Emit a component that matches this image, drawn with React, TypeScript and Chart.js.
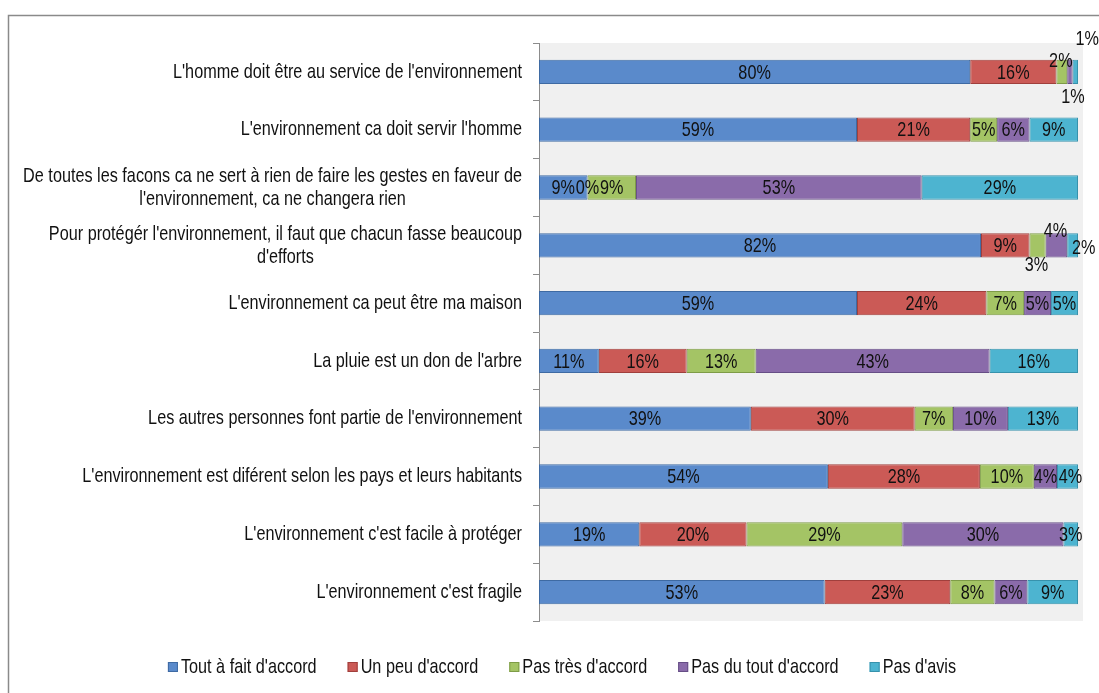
import React, { useEffect, useRef } from "react";
import { Chart, registerables } from "chart.js";

Chart.register(...registerables);

const categories: string[][] = [
  ["L'homme doit être au service de l'environnement"],
  ["L'environnement ca doit servir l'homme"],
  [
    "De toutes les facons ca ne sert à rien de faire les gestes en faveur de",
    "l'environnement, ca ne changera rien",
  ],
  ["Pour protégér l'environnement, il faut que chacun fasse beaucoup", "d'efforts"],
  ["L'environnement ca peut être ma maison"],
  ["La pluie est un don de l'arbre"],
  ["Les autres personnes font partie de l'environnement"],
  ["L'environnement est diférent selon les pays et leurs habitants"],
  ["L'environnement c'est facile à protéger"],
  ["L'environnement c'est fragile"],
];

const seriesNames = [
  "Tout à fait d'accord",
  "Un peu d'accord",
  "Pas très d'accord",
  "Pas du tout d'accord",
  "Pas d'avis",
];

const toutAFait = [80, 59, 9, 82, 59, 11.1, 39.3, 53.6, 18.6, 53];
const unPeu = [16, 21, 0, 9, 24, 16.3, 30.4, 28.2, 19.9, 23.3];
const pasTres = [2, 5, 9, 3, 7, 12.8, 7.1, 10.0, 28.9, 8.2];
const pasDuTout = [1, 6, 53, 4, 5, 43.4, 10.2, 4.3, 29.9, 6.1];
const pasDAvis = [1, 9, 29, 2, 5, 16.4, 13.0, 3.9, 2.7, 9.4];

const seriesValues = [toutAFait, unPeu, pasTres, pasDuTout, pasDAvis];

const fills = ["#5A8ACB", "#CB5A56", "#A4C465", "#8A6BAA", "#4DB4D0"];
const borders = ["#3E6AA3", "#A03F3C", "#7E9C47", "#664E86", "#3792AC"];

// manual placement of crowded data labels: "dataset-index" -> [dx, dy]
const labelNudges: Record<string, [number, number]> = {
  "2-0": [-1, -12],
  "3-0": [3, 24],
  "4-0": [12, -34],
  "2-3": [-1, 19],
  "3-3": [-1, -15],
  "4-3": [11, 2],
  "4-7": [3, 0],
};

const FONT_SIZE = 21;
let FONT_FAMILY = '"Liberation Sans", Arial, sans-serif';
const REF_TEXT = "L'homme doit être au service de l'environnement";
const REF_WIDTH = 349;

let SX = 0.8;
let fontReady = false;

function font() {
  return `${FONT_SIZE}px ${FONT_FAMILY}`;
}

function setupFont(ctx: CanvasRenderingContext2D) {
  if (fontReady) return;
  ctx.save();
  ctx.font = `${FONT_SIZE}px "Liberation Sans Narrow", monospace`;
  const a = ctx.measureText("abcdefghijklmnop").width;
  ctx.font = `${FONT_SIZE}px monospace`;
  const b = ctx.measureText("abcdefghijklmnop").width;
  if (Math.abs(a - b) > 0.5) {
    FONT_FAMILY = '"Liberation Sans Narrow", "Arial Narrow", sans-serif';
  }
  ctx.font = font();
  SX = REF_WIDTH / ctx.measureText(REF_TEXT).width;
  ctx.restore();
  fontReady = true;
}

function drawText(ctx: CanvasRenderingContext2D, text: string, x: number, y: number, align: CanvasTextAlign) {
  ctx.save();
  ctx.font = font();
  ctx.translate(x, y);
  ctx.scale(SX, 1);
  ctx.textAlign = align;
  ctx.textBaseline = "middle";
  ctx.fillStyle = "#111";
  ctx.fillText(text, 0, 0);
  ctx.restore();
}

function textW(ctx: CanvasRenderingContext2D, text: string) {
  ctx.save();
  ctx.font = font();
  const w = ctx.measureText(text).width * SX;
  ctx.restore();
  return w;
}

const framePlugin = {
  id: "frame",
  beforeDraw(chart: any) {
    const { ctx, chartArea, width, height } = chart;
    ctx.save();
    ctx.fillStyle = "#ffffff";
    ctx.fillRect(0, 0, width, height);
    ctx.fillStyle = "#F0F0F0";
    ctx.fillRect(chartArea.left, chartArea.top, chartArea.right - chartArea.left + 5, chartArea.bottom - chartArea.top);
    ctx.strokeStyle = "#8a8a8a";
    ctx.lineWidth = 1.5;
    ctx.beginPath();
    ctx.moveTo(8.5, height + 2);
    ctx.lineTo(8.5, 15.5);
    ctx.lineTo(width + 2, 15.5);
    ctx.stroke();
    ctx.restore();
  },
};

const labelsPlugin = {
  id: "customLabels",
  afterDraw(chart: any) {
    const ctx: CanvasRenderingContext2D = chart.ctx;
    setupFont(ctx);

    // category labels
    const yScale = chart.scales.y;
    const rightEdge = yScale.right - 17;
    const lineH = 23;
    (chart.data.labels as string[][]).forEach((lines, i) => {
      const cy = yScale.getPixelForValue(i);
      const blockW = Math.max(...lines.map((l) => textW(ctx, l)));
      const cx = rightEdge - blockW / 2;
      lines.forEach((l, k) => {
        drawText(ctx, l, cx, cy + (k - (lines.length - 1) / 2) * lineH, "center");
      });
    });

    // data labels
    chart.data.datasets.forEach((ds: any, d: number) => {
      const meta = chart.getDatasetMeta(d);
      meta.data.forEach((el: any, i: number) => {
        const v = ds.data[i];
        const nudge = labelNudges[`${d}-${i}`] || [0, 0];
        const cx = (el.x + el.base) / 2 + nudge[0];
        const cy = el.y + nudge[1];
        drawText(ctx, `${Math.round(v)}%`, cx, cy + 1, "center");
      });
    });

    // legend
    const box = 10;
    const gapBox = 3;
    const gapItem = 31;
    const items = chart.data.datasets.map((ds: any, d: number) => ({
      label: ds.label,
      w: box + gapBox + textW(ctx, ds.label),
      d,
    }));
    const total = items.reduce((s: number, it: any) => s + it.w, 0) + gapItem * (items.length - 1);
    let x = 562 - total / 2;
    const ly = 667;
    items.forEach((it: any) => {
      ctx.save();
      ctx.fillStyle = fills[it.d];
      ctx.fillRect(x, ly - box / 2, box, box);
      ctx.strokeStyle = borders[it.d];
      ctx.lineWidth = 1;
      ctx.strokeRect(x + 0.5, ly - box / 2 + 0.5, box - 1, box - 1);
      ctx.restore();
      drawText(ctx, it.label, x + box + gapBox, ly, "left");
      x += it.w + gapItem;
    });
  },
};

export default function App() {
  const canvasRef = useRef<HTMLCanvasElement | null>(null);

  useEffect(() => {
    if (!canvasRef.current) return;
    const chart = new Chart(canvasRef.current, {
      type: "bar",
      data: {
        labels: categories as any,
        datasets: seriesNames.map((name, d) => ({
          label: name,
          data: seriesValues[d],
          backgroundColor: fills[d],
          borderColor: borders[d],
          borderWidth: 1,
          borderSkipped: false,
          barPercentage: 0.42,
          categoryPercentage: 1,
        })),
      },
      options: {
        indexAxis: "y",
        animation: false,
        responsive: true,
        maintainAspectRatio: false,
        layout: { padding: { top: 43, right: 21, left: 0, bottom: 72 } },
        plugins: {
          legend: { display: false },
          tooltip: { enabled: false },
        },
        scales: {
          x: { stacked: true, min: 0, max: 100, display: false },
          y: {
            stacked: true,
            grid: {
              offset: true,
              drawOnChartArea: false,
              drawTicks: true,
              tickLength: 6,
              color: "#8c8c8c",
              tickColor: "#8c8c8c",
            },
            border: { display: true, color: "#8c8c8c", width: 1 },
            ticks: { display: false },
            afterFit: (s: any) => {
              s.width = 539;
            },
          },
        },
      },
      plugins: [framePlugin, labelsPlugin],
    } as any);
    return () => chart.destroy();
  }, []);

  return (
    <div style={{ position: "fixed", left: 0, top: 0, width: 1099, height: 693, background: "#fff" }}>
      <canvas ref={canvasRef} />
    </div>
  );
}
